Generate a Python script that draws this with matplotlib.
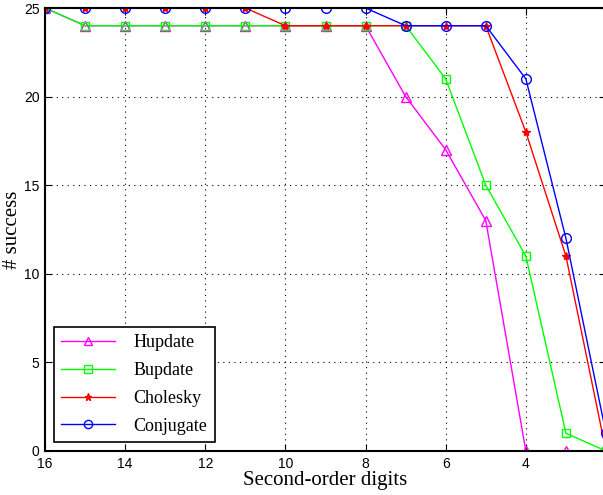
import numpy as np
import matplotlib
matplotlib.use("Agg")
import matplotlib.pyplot as plt

digits = [16, 15, 14, 13, 12, 11, 10, 9, 8, 7, 6, 5, 4, 3, 2]
hupdate = [25, 24, 24, 24, 24, 24, 24, 24, 24, 20, 17, 13, 0, 0, 0]
bupdate = [25, 24, 24, 24, 24, 24, 24, 24, 24, 24, 21, 15, 11, 1, 0]
cholesky = [25, 25, 25, 25, 25, 25, 24, 24, 24, 24, 24, 24, 18, 11, 0]
conjugate = [25, 25, 25, 25, 25, 25, 25, 25, 25, 24, 24, 24, 21, 12, 1]
xtick_vals = [16, 14, 12, 10, 8, 6, 4]

fig = plt.figure(figsize=(6.03, 4.95), dpi=100)
ax = fig.add_axes([45/603, 1-451/495, 561/603, 443/495])

ax.plot(digits, hupdate, color="#ff00ff", marker="^", mfc="none", ms=7, lw=1, label="Hupdate")
ax.plot(digits, bupdate, color="#00ff00", marker="s", mfc="none", ms=6, lw=1, label="Bupdate")
ax.plot(digits, cholesky, color="#ff0000", marker="*", ms=6, lw=1, label="Cholesky")
ax.plot(digits, conjugate, color="#0000ff", marker="o", mfc="none", ms=7, lw=1, label="Conjugate")

ax.set_xlim(16, 2)
ax.set_ylim(0, 25)
ax.set_xticks(xtick_vals)
ax.set_yticks([0, 5, 10, 15, 20, 25])
ax.tick_params(direction="in", labelsize=10, length=5, top=True, right=True)
ax.tick_params(axis="x", pad=4)
ax.tick_params(axis="y", pad=4)
for lbl in ax.get_xticklabels() + ax.get_yticklabels():
    lbl.set_family("Liberation Sans")
ax.grid(True, linestyle=(0, (1, 4)), color="black", lw=0.8)
for s in ax.spines.values():
    s.set_linewidth(1.5)

ax.set_xlabel("Second-order digits", family="Liberation Serif", fontsize=15, labelpad=0)
ax.set_ylabel("# success", family="Liberation Serif", fontsize=15, labelpad=1)

leg = ax.legend(loc="lower left", prop={"family": "Liberation Serif", "size": 13},
                fancybox=False, edgecolor="black", framealpha=1, markerscale=0.85,
                handlelength=3.0, borderaxespad=0.5, labelspacing=0.6, handletextpad=1.0)
leg.get_frame().set_linewidth(1.2)

fig.savefig("out.png", dpi=100)
